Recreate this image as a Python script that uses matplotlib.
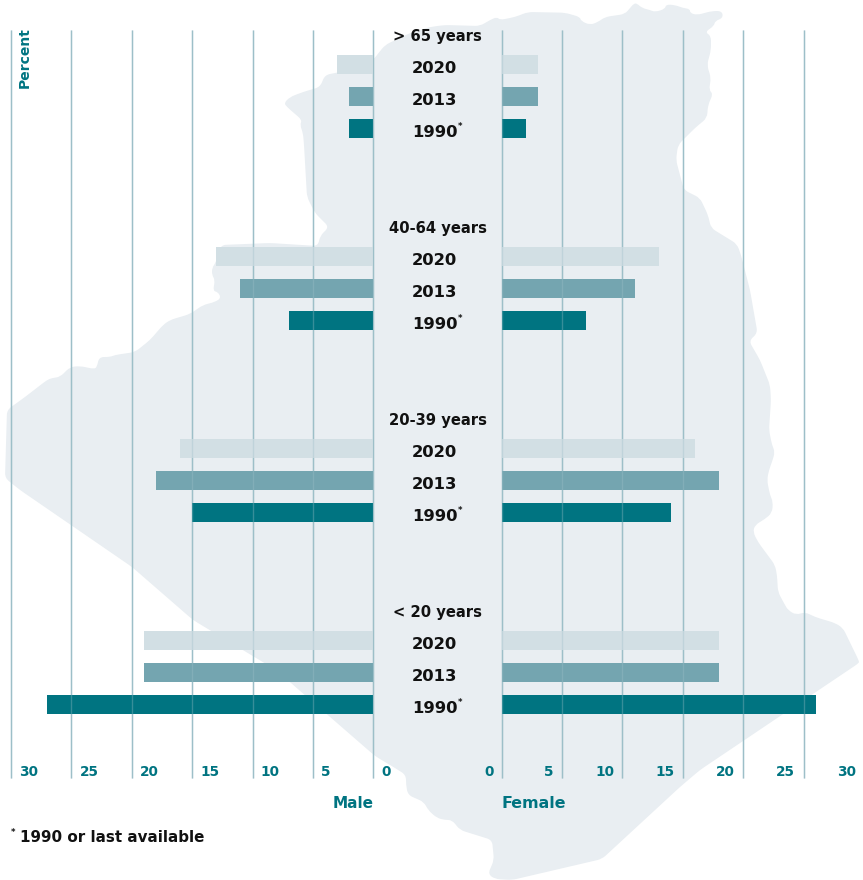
import matplotlib
matplotlib.use("Agg")
import matplotlib.pyplot as plt
import numpy as np
from matplotlib.patches import PathPatch
from matplotlib.path import Path
from matplotlib.transforms import blended_transform_factory

W, H = 863, 880
TEAL = "#007481"
GRID = "#9dbfc8"
FONT = "DejaVu Sans"

age_groups = ["> 65 years", "40-64 years", "20-39 years", "< 20 years"]
years = ["2020", "2013", "1990"]
male_2020 = [3, 13, 16, 19]
male_2013 = [2, 11, 18, 19]
male_1990 = [2, 7, 15, 27]
female_2020 = [3, 13, 16, 18]
female_2013 = [3, 11, 18, 18]
female_1990 = [2, 7, 14, 26]
year_colors = ["#d2dfe4", "#74a5b0", "#007481"]
ticks = [0, 5, 10, 15, 20, 25, 30]

# Background map outline, in reference pixels
map_outline = [
    (500, 20), (515, 17), (528, 12), (565, 12.7), (580, 17), (581, 21), (590, 25), (598, 22),
    (605, 17), (625, 14), (630, 8), (634, 3.5), (637, 3.5), (642, 8), (650, 10), (655, 12),
    (665, 9), (666, 4.5), (675, 5), (683, 8), (690, 9), (690, 13), (697, 15), (712, 11),
    (722, 11), (723, 18), (715, 21), (714, 26), (705, 32), (711, 36), (711, 50), (707, 65),
    (711, 78), (709, 90), (713, 94), (708, 105), (707, 118), (695, 128), (688, 135),
    (678, 145), (676, 160), (680, 175), (684, 190), (700, 198), (708, 215), (711, 228),
    (737, 244), (741, 255), (750, 290), (757.5, 333), (749, 341), (760, 360), (770, 385),
    (771, 400), (769, 430), (772, 445), (775, 452), (772, 462), (769, 470), (767, 480),
    (770, 495), (773, 502), (772, 513), (765, 519), (755, 525), (753, 532), (758, 542),
    (775, 565), (777, 575), (778, 592), (785, 605), (788, 610), (796, 615), (805, 612),
    (815, 617), (835, 623), (843, 628), (859, 661), (859, 663), (700, 770), (680, 787),
    (602, 859), (512, 880), (495, 879), (488, 874), (494, 860), (492, 840), (460, 830),
    (452, 820), (445, 820), (437, 818), (428, 810), (424, 802), (408, 795), (406, 785),
    (406, 775), (395, 768), (375, 756), (276, 670), (193, 620), (132, 567), (20, 490),
    (5, 478), (7, 410), (25, 397), (47, 380), (52, 378), (60, 377), (70, 367), (80, 366),
    (94, 369), (97, 367), (99, 357), (110, 357), (115, 355), (135, 352), (150, 340),
    (163, 325), (170, 320), (190, 314), (203, 305), (215, 302), (221, 298), (218, 292),
    (213, 291), (215, 280), (212, 275), (212, 268), (216, 262), (221, 245), (270, 243),
    (318, 246), (320, 236), (329, 227), (315, 213), (307, 197), (304, 145), (303, 133),
    (300, 125), (302, 120), (287, 107), (284, 103), (290, 97), (303, 92), (320, 87),
    (325, 75), (340, 72), (360, 68), (373, 60), (385, 45), (410, 33), (430, 27), (445, 25),
    (480, 26), (490, 20), (497, 17),
]


def rounded_path(points, r=5.0):
    """Closed path through the outline with slightly softened corners."""
    pts = np.asarray(points, float)
    n = len(pts)
    verts, codes = [], []
    for i in range(n):
        p, a, b = pts[i], pts[i - 1], pts[(i + 1) % n]
        da, db = a - p, b - p
        la, lb = np.hypot(*da), np.hypot(*db)
        p_in = p + da / la * min(r, la / 2)
        p_out = p + db / lb * min(r, lb / 2)
        verts.append(p_in)
        codes.append(Path.MOVETO if i == 0 else Path.LINETO)
        verts += [p, p_out]
        codes += [Path.CURVE3, Path.CURVE3]
    verts.append(verts[0])
    codes.append(Path.CLOSEPOLY)
    return Path(verts, codes)


fig = plt.figure(figsize=(W / 100, H / 100), dpi=100)


def axes_px(x0, y0, x1, y1):
    return fig.add_axes([x0 / W, 1 - y1 / H, (x1 - x0) / W, (y1 - y0) / H])


bg = axes_px(0, 0, W, H)
bg.set_xlim(0, W)
bg.set_ylim(H, 0)
bg.axis("off")
bg.add_patch(PathPatch(rounded_path(map_outline), fc="#e9eef2", ec="none"))

# rows: one row = 32 px; row 0 is the centre of the first 2020 bar (y = 64.5 px)
TOP, BOTTOM = 30, 778
ylim = ((BOTTOM - 64.5) / 32, (TOP - 64.5) / 32)
group_rows = [6 * i for i in range(len(age_groups))]

male = [male_2020, male_2013, male_1990]
female = [female_2020, female_2013, female_1990]

left = axes_px(11, TOP, 373.3, BOTTOM)
right = axes_px(501.7, TOP, 864, BOTTOM)
left.set_xlim(30, 0)
right.set_xlim(0, 30)

for ax, data in ((left, male), (right, female)):
    ax.patch.set_alpha(0)
    ax.set_ylim(*ylim)
    ax.vlines(ticks, *ylim, color=GRID, lw=1.0, zorder=1, clip_on=False)
    for k, (vals, col) in enumerate(zip(data, year_colors)):
        ax.barh([g + k for g in group_rows], vals, height=19 / 32, color=col, lw=0, zorder=2)
    ax.vlines(ticks, *ylim, color=GRID, lw=1.0, alpha=0.35, zorder=3, clip_on=False)
    ax.set_xticks(ticks)
    ax.set_yticks([])
    ax.tick_params(length=0, labelbottom=False)
    for s in ax.spines.values():
        s.set_visible(False)

txt = dict(family=FONT, fontweight="bold")
tick_size = 9.8
for v in ticks:
    left.annotate(str(v), xy=(v, 0), xycoords=left.get_xaxis_transform(), xytext=(6, 4.3),
                  textcoords="offset points", ha="left", va="center", color=TEAL,
                  fontsize=tick_size, annotation_clip=False, **txt)
    right.annotate(str(v), xy=(v, 0), xycoords=right.get_xaxis_transform(), xytext=(-6, 4.3),
                   textcoords="offset points", ha="right", va="center", color=TEAL,
                   fontsize=tick_size, annotation_clip=False, **txt)

centre = axes_px(373.3, TOP, 501.7, BOTTOM)
centre.patch.set_alpha(0)
centre.axis("off")
centre.set_ylim(*ylim)
tr = blended_transform_factory(centre.transAxes, centre.transData)
for g, label in zip(group_rows, age_groups):
    centre.text(0.5, g - 1 + 0.11, label, transform=tr, ha="center", va="center",
                color="#111111", fontsize=10.6, **txt)
    for k, y in enumerate(years):
        centre.text(0.479, g + k + 0.11, y, transform=tr, ha="center", va="center",
                    color="#111111", fontsize=11.8, **txt)
        if y == "1990":
            centre.text(0.66, g + k - 0.06, "*", transform=tr, ha="left", va="center",
                        color="#111111", fontsize=6, **txt)

bg.text(374, 804, "Male", ha="right", va="center", color=TEAL, fontsize=11, **txt)
bg.text(501, 804, "Female", ha="left", va="center", color=TEAL, fontsize=11.4, **txt)
bg.text(25, 58, "Percent", rotation=90, ha="center", va="center", color=TEAL, fontsize=10, **txt)
bg.text(11, 832, "*", ha="left", va="center", color="#111111", fontsize=6, **txt)
bg.text(20, 837, "1990 or last available", ha="left", va="center", color="#111111",
        fontsize=10.9, **txt)

fig.savefig("out.png", dpi=100)
